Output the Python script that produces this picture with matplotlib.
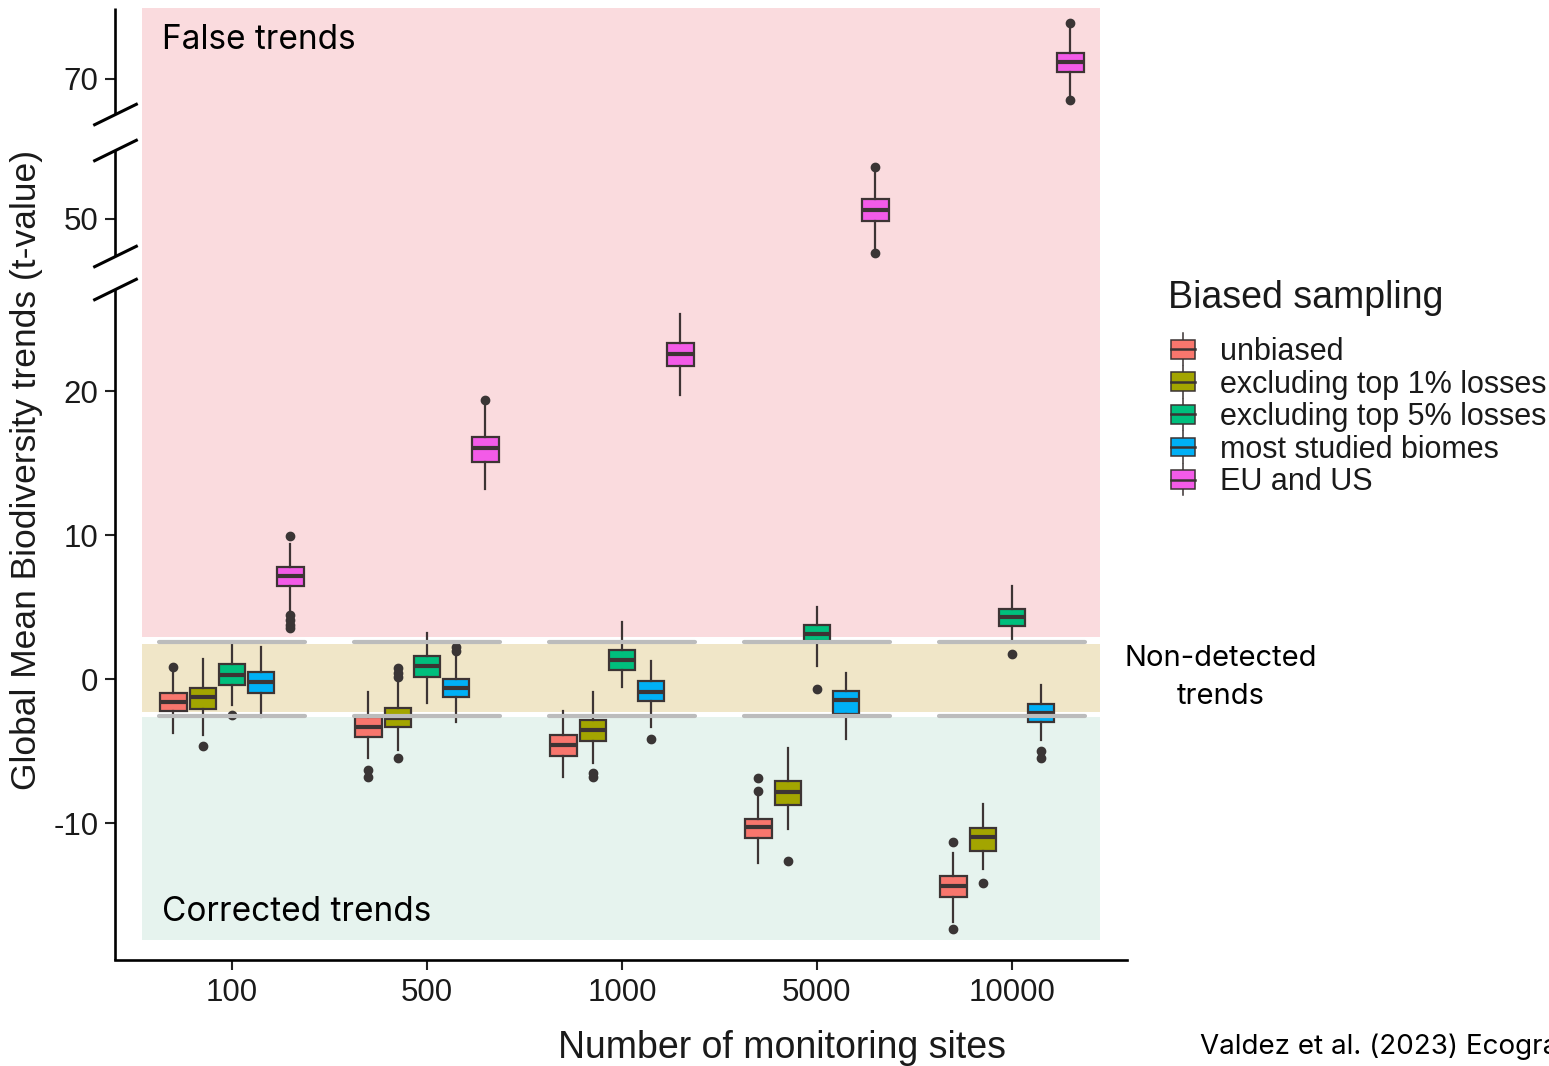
import numpy as np
import matplotlib
matplotlib.use("Agg")
import matplotlib.pyplot as plt
from matplotlib.patches import Rectangle, Patch
from matplotlib.lines import Line2D
from matplotlib.path import Path
from matplotlib.legend_handler import HandlerBase

plt.rcParams['font.family'] = ['Liberation Sans', 'DejaVu Sans']

# ---- data ----
sites = ['100', '500', '1000', '5000', '10000']
series = ['unbiased', 'excluding top 1% losses', 'excluding top 5% losses',
          'most studied biomes', 'EU and US']
colors = ['#F8766D', '#A3A500', '#00BF7D', '#00B0F6', '#F35BE8']

# rows = series, columns = number of sites
med = [[-1.60, -3.31, -4.58, -10.30, -14.35],
       [-1.27, -2.73, -3.54, -7.82, -10.95],
       [0.28, 0.92, 1.32, 3.12, 4.28],
       [-0.19, -0.65, -0.93, -1.46, -2.34],
       [7.15, 16.06, 22.57, 51.29, 72.43]]
q1 = [[-2.20, -4.05, -5.35, -11.06, -15.12],
      [-2.10, -3.35, -4.28, -8.75, -11.92],
      [-0.42, 0.16, 0.62, 2.66, 3.68],
      [-0.95, -1.23, -1.50, -2.43, -2.96],
      [6.46, 15.09, 21.76, 49.76, 71.04]]
q3 = [[-0.99, -2.66, -3.89, -9.74, -13.68],
      [-0.65, -2.03, -2.85, -7.06, -10.37],
      [1.04, 1.60, 2.01, 3.75, 4.86],
      [0.51, 0.00, -0.12, -0.81, -1.74],
      [7.78, 16.78, 23.36, 52.81, 73.67]]
whis_lo = [[-3.75, -5.51, -6.78, -12.80, -16.85],
           [-3.90, -4.93, -5.86, -10.44, -13.20],
           [-1.80, -1.69, -0.53, 0.90, 2.71],
           [-2.62, -2.97, -3.31, -4.19, -4.24],
           [4.60, 13.17, 19.72, 45.57, 67.47]]
whis_hi = [[0.60, -0.88, -2.20, -8.06, -12.10],
           [1.37, -0.19, -0.88, -4.77, -8.70],
           [2.50, 3.17, 3.98, 5.02, 6.46],
           [2.24, 1.55, 1.27, 0.44, -0.42],
           [9.40, 19.03, 25.35, 57.00, 77.47]]
outliers = [[[0.83], [-6.32, -6.78], [], [-6.9, -7.75], [-11.3, -17.38]],
            [[-4.63], [0.74, 0.40, 0.16, -5.51], [-6.5, -6.8], [-12.62], [-14.19]],
            [[-2.5], [], [], [-0.72], [1.72]],
            [[], [2.24, 1.97], [-4.19], [], [-5.0, -5.47]],
            [[9.9, 4.44, 4.1, 3.75, 3.54], [19.38], [], [57.47, 45.1], [78.04, 67.0]]]

threshold = 2.6          # detection limit lines
false_band = (2.94, 80.2)
nondet_band = (-2.27, 2.43)
corr_band = (-18.1, -2.62)

# broken y axis: lower part 14.4 px/unit, upper part 7 px/unit
gap_lo, gap_hi = 27.08, 44.71
y_pts = [-100, gap_lo, gap_hi, 200]
t_pts = [-1440, 14.4 * gap_lo, 460 + 7 * (gap_hi - 50), 460 + 7 * 150]


def fwd(y):
    return np.interp(y, y_pts, t_pts)


def inv(t):
    return np.interp(t, t_pts, y_pts)


class BoxKey(HandlerBase):
    def create_artists(self, legend, orig_handle, xdescent, ydescent,
                       width, height, fontsize, trans):
        x0, y0 = -xdescent, -ydescent
        cx = x0 + width / 2
        stub = height * 0.35
        ec = '#3a3333'
        wh = Line2D([cx, cx], [y0 - stub, y0 + height + stub], color=ec, lw=1.1,
                    transform=trans)
        box = Rectangle((x0, y0), width, height, facecolor=orig_handle.get_facecolor(),
                        edgecolor=ec, lw=1.1, transform=trans)
        md = Line2D([x0, x0 + width], [y0 + height / 2] * 2, color=ec, lw=1.8,
                    transform=trans)
        return [wh, box, md]


W, H = 1549, 1066
fig = plt.figure(figsize=(W / 100, H / 100), dpi=100)
ax = fig.add_axes([115 / W, 106 / H, 1012 / W, 952 / H])
ax.set_yscale('function', functions=(fwd, inv))
ax.set_xlim(0.4, 5.59)
ax.set_ylim(-19.51, 80.14)

# background bands
band_x = (0.54, 5.45)
for (b0, b1), c in zip([false_band, nondet_band, corr_band],
                       ['#fadbde', '#f0e6c8', '#e6f3ee']):
    ax.fill_between(band_x, b0, b1, color=c, lw=0, zorder=0)

# boxes
edge = '#3d3434'
offsets = [-0.3, -0.15, 0.0, 0.15, 0.3]
for si in range(len(series)):
    stats = []
    for g in range(len(sites)):
        stats.append(dict(med=med[si][g], q1=q1[si][g], q3=q3[si][g],
                          whislo=whis_lo[si][g], whishi=whis_hi[si][g],
                          fliers=outliers[si][g]))
    pos = [g + 1 + offsets[si] for g in range(len(sites))]
    ax.bxp(stats, positions=pos, widths=0.135, patch_artist=True, showcaps=False,
           manage_ticks=False, zorder=3,
           boxprops=dict(facecolor=colors[si], edgecolor=edge, lw=1.6),
           medianprops=dict(color=edge, lw=3),
           whiskerprops=dict(color=edge, lw=1.6),
           flierprops=dict(marker='o', markerfacecolor='#3a3535',
                           markeredgecolor='#3a3535', markersize=6))

# detection-limit lines per group
for g in range(len(sites)):
    for v in (threshold, -threshold):
        ax.plot([g + 1 - 0.375, g + 1 + 0.375], [v, v], color='#bcbcbc', lw=3,
                solid_capstyle='round', zorder=4)

# axes styling
ax.spines[['top', 'right', 'left']].set_visible(False)
ax.spines['bottom'].set_linewidth(1.9)
ax.set_xticks(range(1, len(sites) + 1))
ax.set_xticklabels(sites)
ax.set_yticks([-10, 0, 10, 20, 50, 70])
ax.set_yticklabels(['-10', '0', '10', '20', '50', '70'])
ax.yaxis.set_minor_locator(matplotlib.ticker.NullLocator())
ax.tick_params(axis='both', labelsize=22.5, labelcolor='#1a1a1a', width=1.5,
               length=7, color='#222222')
ax.tick_params(axis='x', pad=6)
ax.tick_params(axis='y', pad=5)

# broken left spine with slashes
ytr = ax.get_yaxis_transform()
for a, b in [(-19.51, gap_lo), (gap_hi, 59.86), (65.0, 80.14)]:
    ax.plot([0, 0], [a, b], transform=ytr, color='black', lw=1.9, clip_on=False,
            solid_capstyle='butt')
slash = Path([(-1, -0.49), (1, 0.49)], [Path.MOVETO, Path.LINETO])
ax.plot([0, 0, 0, 0], [gap_lo, gap_hi, 59.86, 65.0], transform=ytr, ls='none',
        marker=slash, ms=32, mew=2.2, color='black', clip_on=False)

# labels and annotations
fig.text(27 / W, 1 - 470 / H, 'Global Mean Biodiversity trends (t-value)',
         rotation=90, ha='center', va='center', fontsize=25.5, color='#1a1a1a')
fig.text(782 / W, 1 - 1058 / H, 'Number of monitoring sites', ha='center',
         va='baseline', fontsize=27, color='#1a1a1a')

ann = ['Inter', 'DejaVu Sans']
fig.text(162 / W, 1 - 49 / H, 'False trends', fontsize=24, family=ann, va='baseline')
fig.text(162 / W, 1 - 921 / H, 'Corrected trends', fontsize=24, family=ann,
         va='baseline')
fig.text(1221 / W, 1 - 666 / H, 'Non-detected', fontsize=21, family=ann,
         ha='center', va='baseline')
fig.text(1221 / W, 1 - 704 / H, 'trends', fontsize=21, family=ann,
         ha='center', va='baseline')
fig.text(1200 / W, 1 - 1054 / H, 'Valdez et al. (2023) Ecography', fontsize=20,
         family=ann, va='baseline')

# legend
fig.text(1168 / W, 1 - 298 / H, 'Biased sampling', fontsize=27, va='center',
         color='#1a1a1a')
handles = [Patch(facecolor=c) for c in colors]
leg = ax.legend(handles, series, handler_map={Patch: BoxKey()},
                loc='upper left', bbox_to_anchor=(1171 / W, 1 - 337 / H),
                bbox_transform=fig.transFigure, frameon=False, fontsize=22,
                borderpad=0, borderaxespad=0, handlelength=0.8, handleheight=0.56,
                handletextpad=0.8, labelspacing=0.085)
for t in leg.get_texts():
    t.set_color('#1a1a1a')

fig.savefig('out.png', dpi=100)
